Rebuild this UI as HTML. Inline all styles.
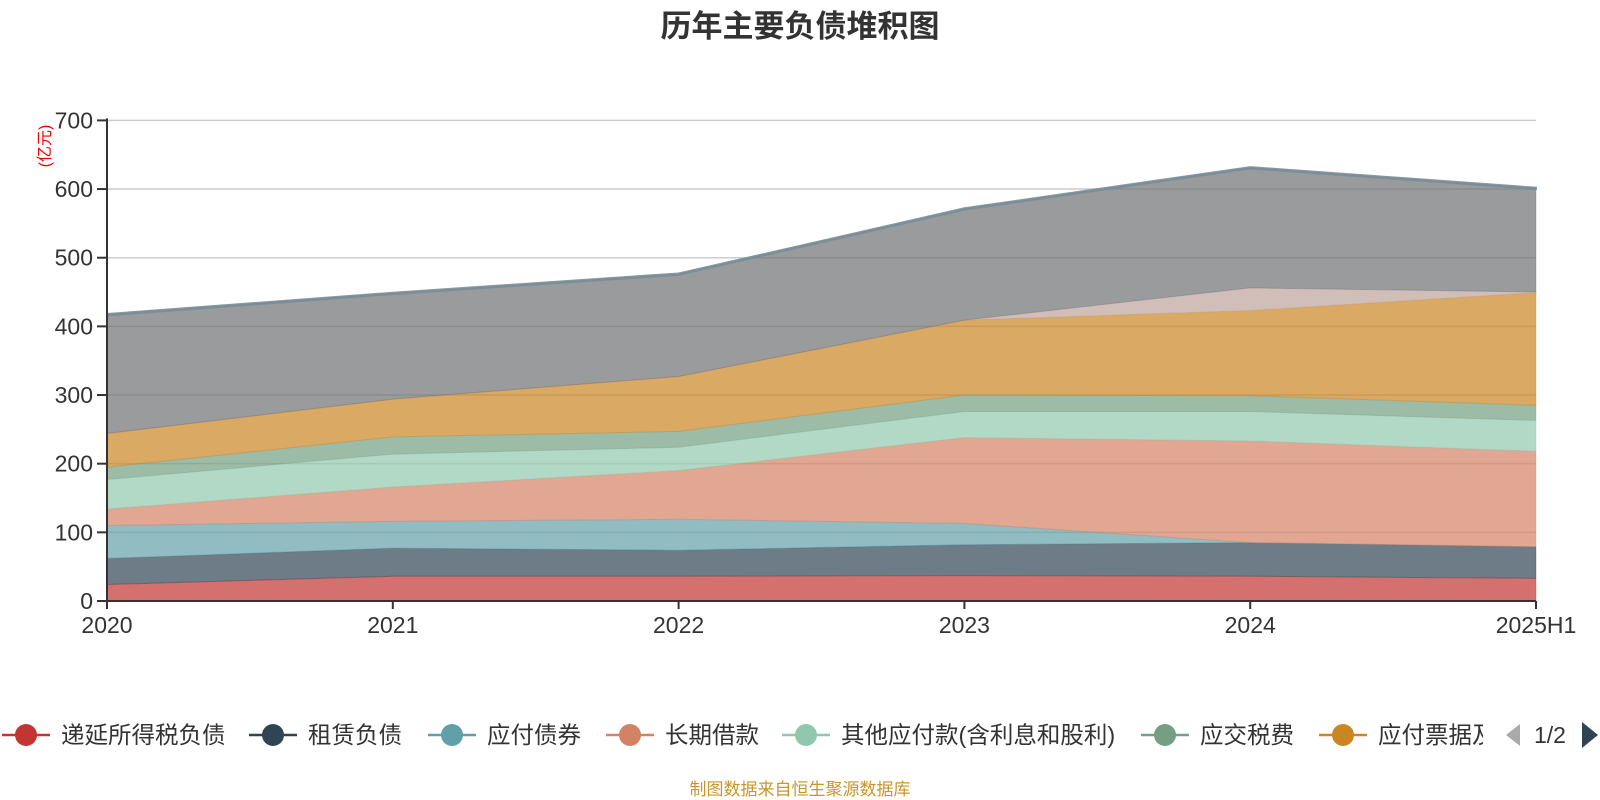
<!DOCTYPE html>
<html><head><meta charset="utf-8">
<style>
html,body{margin:0;padding:0;background:#fff;}
svg{display:block;font-family:"Liberation Sans","Noto Sans CJK SC",sans-serif;}
</style></head>
<body>
<svg id="chart" width="1600" height="800" viewBox="0 0 1600 800">
<text x="800" y="37" text-anchor="middle" font-size="31" font-weight="bold" fill="#333">历年主要负债堆积图</text>
<text transform="translate(50,146) rotate(-90)" text-anchor="middle" font-size="16" fill="#e00">(亿元)</text>
<g id="grid"></g>
<g id="areas"></g>
<g id="axes"></g>
<g id="legend"></g>
<text x="800" y="795" text-anchor="middle" font-size="17" fill="#c8962a" font-family="'Noto Sans CJK SC',sans-serif">制图数据来自恒生聚源数据库</text>
</svg>
<script>
const categories = ["2020","2021","2022","2023","2024","2025H1"];
const seriesNames = ["递延所得税负债","租赁负债","应付债券","长期借款","其他应付款(含利息和股利)","应交税费","应付票据及应付账款","合同负债","应付账款","其他"];
const s1 = [24,36,36,37,36,33];
const s2 = [38,41,38,45,49,46];
const s3 = [48,39,45,31,0,0];
const s4 = [24,50,71,125,148,139];
const s5 = [43,48,34,38,43,45];
const s6 = [18,25,23,24,23,22];
const s7 = [49,55,80,109,124,164];
const s8 = [0,0,0,0,33,1];
const s9 = [172,153,148,161,174,150];
const s10 = [2,2,2,2,2,2];
const yTicks = [0,100,200,300,400,500,600,700];
const colors = ["#c23531","#2f4554","#61a0a8","#d48265","#91c7ae","#749f83","#ca8622","#bda29a","#6e7074","#546570"];
const series=[s1,s2,s3,s4,s5,s6,s7,s8,s9,s10];
const X0=107,X1=1536,Y0=601,Y1=120.4,YMAX=700;
const xs=i=>X0+(X1-X0)*i/(categories.length-1);
const ys=v=>Y0-(Y0-Y1)*v/YMAX;
const NS="http://www.w3.org/2000/svg";
function mk(tag,attrs,parent){const e=document.createElementNS(NS,tag);for(const k in attrs)e.setAttribute(k,attrs[k]);parent.appendChild(e);return e;}
const grid=document.getElementById('grid'),areas=document.getElementById('areas'),axes=document.getElementById('axes'),legend=document.getElementById('legend');
yTicks.forEach(t=>{
  const l=mk('line',{x1:X0,x2:X1,y1:ys(t),y2:ys(t),stroke:'#ccc','stroke-width':1.5},grid);
  
  
  const tk=mk('line',{x1:X0-10,x2:X0,y1:ys(t),y2:ys(t),stroke:'#333','stroke-width':2},axes);
  
  
  const tx=mk('text',{x:X0-14,y:ys(t)+8,'text-anchor':'end','font-size':23,fill:'#333'},axes);
  tx.textContent=t;
  
  
});
let cum=categories.map(()=>0);
series.forEach((s,si)=>{
  const low=cum.slice();
  cum=cum.map((c,i)=>c+s[i]);
  let d='M'+categories.map((c,i)=>xs(i)+','+ys(cum[i])).join(' L');
  for(let i=categories.length-1;i>=0;i--)d+=' L'+xs(i)+','+ys(low[i]);
  d+='Z';
  const p=mk('path',{d:d,fill:colors[si],'fill-opacity':0.7,stroke:si==9?'#7a8e98':colors[si],'stroke-opacity':si==9?0.9:0.3,'stroke-width':si==9?2:1},areas);
  
  
});
const ax=mk('line',{x1:X0,x2:X0,y1:Y1-2,y2:Y0,stroke:'#333','stroke-width':2},axes);


const xa=mk('line',{x1:X0,x2:X1,y1:Y0,y2:Y0,stroke:'#333','stroke-width':2},axes);


categories.forEach((c,i)=>{
  const tk=mk('line',{x1:xs(i),x2:xs(i),y1:Y0,y2:Y0+8,stroke:'#333','stroke-width':2},axes);
  
  
  const tx=mk('text',{x:xs(i),y:Y0+32,'text-anchor':'middle','font-size':23,fill:'#333'},axes);
  tx.textContent=c;
  
  
});
const legendX=[26,273,452,630,806,1165,1343];
const ly=735;
const clip=mk('clipPath',{id:'lclip'},legend);
mk('rect',{x:0,y:700,width:1483,height:70},clip);
const lg=mk('g',{'clip-path':'url(#lclip)'},legend);
legendX.forEach((x,i)=>{
  const g=mk('g',{},lg);
  
  
  mk('line',{x1:x-24,x2:x+24,y1:ly,y2:ly,stroke:colors[i],'stroke-width':2.5},g);
  mk('circle',{cx:x,cy:ly,r:11,fill:colors[i]},g);
  const t=mk('text',{x:x+35,y:ly+8,'font-size':23.5,fill:'#333','font-family':"'Liberation Sans','Noto Sans CJK SC',sans-serif"},g);
  t.textContent=seriesNames[i];
});
const pl=mk('path',{d:'M1520,724 L1506,735 L1520,746 Z',fill:'#aaa'},legend);


const pt=mk('text',{x:1550,y:743,'text-anchor':'middle','font-size':23,fill:'#333'},legend);
pt.textContent='1/2';


const pn=mk('path',{d:'M1582,722 L1598,735 L1582,748 Z',fill:'#2f4554'},legend);


</script>
</body></html>
